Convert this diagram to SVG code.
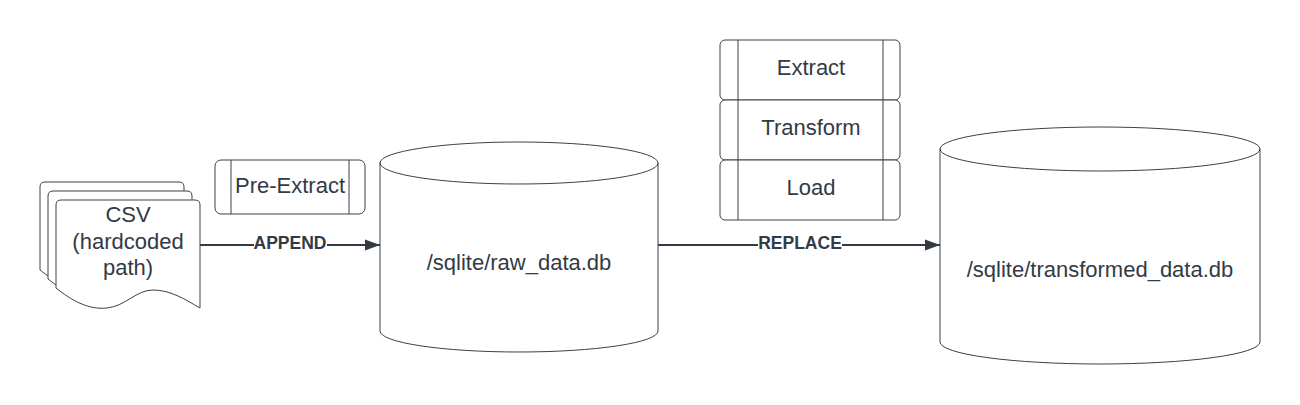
<svg xmlns="http://www.w3.org/2000/svg" width="1300" height="405" viewBox="0 0 1300 405">
<defs>
<style>
.shape{fill:#ffffff;stroke:#3a414a;stroke-width:1}
.inner{fill:none;stroke:#3a414a;stroke-width:1}
.txt{font-family:"Liberation Sans",Arial,sans-serif;font-size:22px;fill:#333a45;text-anchor:middle}
.lbl{font-family:"Liberation Sans",Arial,sans-serif;font-size:17.5px;font-weight:bold;fill:#333a45;text-anchor:middle}
.conn{fill:none;stroke:#333a45;stroke-width:2}
</style>
<marker id="arrow" markerWidth="16" markerHeight="12" refX="15" refY="6" orient="auto" markerUnits="userSpaceOnUse">
<path d="M0,0.5 L15,6 L0,11.5 Z" fill="#333a45"/>
</marker>
<path id="doc" d="M0,5 Q0,0 5,0 L139,0 Q144,0 144,5 L144,108 C130,100 115,90 97,90 C80,90 70,106 51,108 C32,110 15,100 0,88 Z"/>
</defs>
<rect width="1300" height="405" fill="#ffffff"/>

<g id="csv">
<use href="#doc" x="40" y="182" class="shape"/>
<use href="#doc" x="48" y="191" class="shape"/>
<use href="#doc" x="56" y="200" class="shape"/>
<text class="txt" x="128" y="222">CSV</text>
<text class="txt" x="128" y="249">(hardcoded</text>
<text class="txt" x="128" y="275">path)</text>
</g>

<g id="pre-extract">
<rect class="shape" x="215" y="160" width="150" height="54" rx="6"/>
<line class="inner" x1="231" y1="160" x2="231" y2="214"/>
<line class="inner" x1="349" y1="160" x2="349" y2="214"/>
<text class="txt" x="290" y="193">Pre-Extract</text>
</g>

<g id="raw-db">
<path class="shape" d="M380,163 L380,331 A139,21 0 0 0 658,331 L658,163 A139,21 0 0 0 380,163 Z"/>
<path class="inner" d="M380,163 A139,21 0 0 0 658,163"/>
<text class="txt" x="519" y="270">/sqlite/raw_data.db</text>
</g>

<g id="extract">
<rect class="shape" x="720" y="40" width="180" height="60" rx="5"/>
<line class="inner" x1="738" y1="40" x2="738" y2="100"/>
<line class="inner" x1="883" y1="40" x2="883" y2="100"/>
<text class="txt" x="811" y="75">Extract</text>
</g>
<g id="transform">
<rect class="shape" x="720" y="100" width="180" height="60" rx="5"/>
<line class="inner" x1="738" y1="100" x2="738" y2="160"/>
<line class="inner" x1="883" y1="100" x2="883" y2="160"/>
<text class="txt" x="811" y="135">Transform</text>
</g>
<g id="load">
<rect class="shape" x="720" y="160" width="180" height="60" rx="5"/>
<line class="inner" x1="738" y1="160" x2="738" y2="220"/>
<line class="inner" x1="883" y1="160" x2="883" y2="220"/>
<text class="txt" x="811" y="195">Load</text>
</g>

<g id="transformed-db">
<path class="shape" d="M940,149 L940,342 A160,22 0 0 0 1260,342 L1260,149 A160,22 0 0 0 940,149 Z"/>
<path class="inner" d="M940,149 A160,22 0 0 0 1260,149"/>
<text class="txt" x="1100" y="277">/sqlite/transformed_data.db</text>
</g>

<g id="connectors">
<line class="conn" x1="200" y1="245" x2="254" y2="245"/>
<line class="conn" x1="327" y1="245" x2="380" y2="245" marker-end="url(#arrow)"/>
<text class="lbl" x="290" y="249">APPEND</text>
<line class="conn" x1="658" y1="245" x2="758" y2="245"/>
<line class="conn" x1="842" y1="245" x2="940" y2="245" marker-end="url(#arrow)"/>
<text class="lbl" x="800" y="249">REPLACE</text>
</g>
</svg>
